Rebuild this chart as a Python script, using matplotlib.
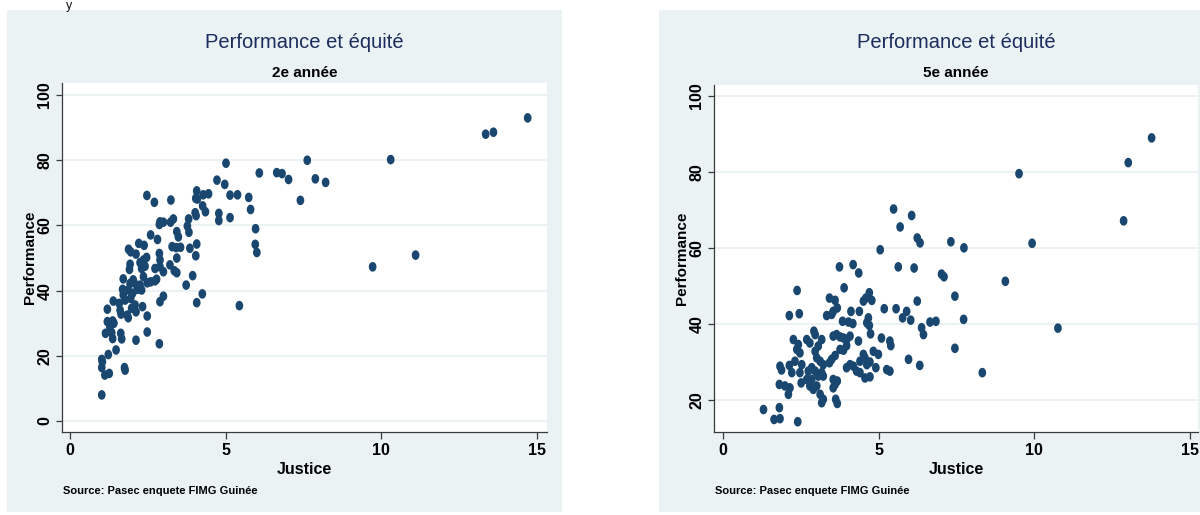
import numpy as np
import matplotlib
matplotlib.use("Agg")
import matplotlib.pyplot as plt
from matplotlib.path import Path
from matplotlib.patches import Rectangle

# ---------------- data ----------------
titles = ["Performance et équité", "Performance et équité"]
subtitles = ["2e année", "5e année"]
x_label = "Justice"
y_label = "Performance"
source = "Source: Pasec enquete FIMG Guinée"
x_ticks = [0, 5, 10, 15]
y_ticks_2e = [0, 20, 40, 60, 80, 100]
y_ticks_5e = [20, 40, 60, 80, 100]

# 2e année
justice_2e = [
    5.01, 7.62, 6.08, 6.64, 6.81, 7.02, 7.88, 8.21, 7.40, 4.72,
    4.97, 5.14, 5.38, 5.74, 5.80, 5.96, 5.95, 6.00, 4.78, 4.78,
    5.14, 2.47, 2.71, 3.24, 4.07, 4.04, 4.09, 4.28, 4.45, 4.26,
    4.35, 4.02, 4.05, 3.81, 3.77, 3.82, 2.89, 3.00, 3.23, 3.32,
    2.87, 3.43, 3.48, 2.59, 2.81, 2.21, 2.38, 1.88, 1.95, 2.12,
    2.46, 2.36, 2.87, 2.89, 3.28, 3.41, 3.55, 3.85, 4.07, 4.04,
    3.43, 1.93, 1.91, 2.25, 2.30, 2.41, 2.73, 2.89, 3.00, 3.21,
    3.35, 3.43, 3.94, 1.71, 2.03, 2.36,
    1.69, 1.93, 2.06, 2.25, 2.30, 2.48, 2.59, 2.73, 2.78, 3.73,
    4.25, 4.07, 3.00, 2.89, 1.39, 1.58, 1.77, 1.95, 2.09, 2.33,
    1.98, 1.20, 1.61, 1.64, 1.84, 1.87, 2.12, 2.48, 1.20, 1.37,
    1.28, 1.41, 1.14, 1.34, 1.37, 1.63, 1.66, 2.12, 2.48, 2.87,
    1.48, 1.23, 1.02, 1.04, 1.02, 1.12, 1.26, 1.75, 1.77, 1.02,
    5.44, 1.87, 2.16, 2.01, 1.71,
    14.70, 13.35, 13.60, 10.30, 9.72, 11.10,
]
perf_2e = [
    79.1, 80.0, 76.1, 76.2, 75.9, 74.1, 74.3, 73.2, 67.7, 73.9,
    72.6, 69.3, 69.4, 68.6, 64.9, 59.0, 54.2, 51.7, 63.7, 61.5,
    62.4, 69.2, 67.1, 67.8, 70.6, 68.3, 68.1, 69.4, 69.7, 66.0,
    64.2, 63.9, 63.0, 62.0, 59.8, 57.9, 61.1, 61.0, 61.0, 62.0,
    60.3, 58.1, 56.5, 57.1, 55.7, 54.5, 53.9, 52.7, 51.9, 51.2,
    50.2, 49.4, 51.4, 49.4, 53.5, 53.2, 53.3, 53.0, 54.3, 50.7,
    50.0, 48.1, 46.5, 48.6, 46.8, 47.5, 46.8, 47.3, 45.8, 47.9,
    46.1, 45.5, 44.6, 43.6, 43.3, 44.3,
    40.4, 42.2, 42.4, 41.7, 40.2, 42.4, 42.7, 43.0, 43.5, 41.7,
    39.0, 36.3, 38.3, 36.6, 36.8, 36.1, 37.1, 37.6, 35.6, 35.1,
    34.6, 34.3, 34.0, 32.8, 32.5, 31.7, 33.5, 32.2, 30.5, 30.7,
    28.7, 30.0, 26.9, 27.1, 25.3, 26.9, 25.2, 24.8, 27.3, 23.7,
    21.8, 20.4, 18.9, 18.2, 16.4, 14.1, 14.6, 16.4, 15.6, 8.0,
    35.4, 40.2, 40.4, 39.2, 38.7,
    93.0, 88.0, 88.6, 80.2, 47.3, 50.9,
]

# 5e année
justice_5e = [
    13.77, 13.02, 9.51, 12.87, 7.32, 7.74, 9.93, 7.02, 7.10, 9.07,
    7.45, 7.73, 10.76, 7.45, 8.33,
    5.48, 6.06, 5.69, 6.24, 6.33, 5.05, 3.74, 4.18, 4.36, 5.63, 6.14,
    3.89, 2.38, 2.13, 2.45, 3.42, 3.60, 3.67, 3.33, 3.49, 3.54,
    4.11, 4.38, 4.51, 4.59, 4.70, 4.78, 4.67, 4.62, 4.70, 4.74,
    3.84, 4.03, 4.17, 4.35, 5.18, 5.56, 5.77, 5.90, 6.03, 6.24,
    6.38, 6.44, 6.65, 6.84, 5.09, 5.36, 5.39, 5.96, 6.32, 4.83,
    4.99, 4.91, 5.26, 5.36, 4.51, 4.56, 4.40, 4.62, 4.72, 3.97,
    4.08, 4.19, 4.29, 4.40, 4.56, 4.72, 3.54, 3.60, 3.67, 3.54,
    3.62, 3.67, 3.42, 3.49, 3.60, 3.76, 3.87, 3.97, 3.54, 3.65,
    3.76, 3.87, 3.97, 4.08, 3.17, 3.06, 2.96, 3.01, 3.12, 3.22,
    3.17, 3.22, 3.06, 2.96, 2.85, 3.01, 3.12, 3.17, 3.22, 2.92,
    2.69, 2.79, 2.96, 2.26, 2.42, 2.37, 2.47, 2.31, 2.53, 2.47,
    2.51, 2.74, 2.85, 1.83, 1.88, 2.13, 2.21, 1.81, 1.99, 2.15,
    2.10, 1.30, 1.64, 1.81, 1.83, 2.40, 2.69, 2.79, 2.90,
]
perf_5e = [
    89.0, 82.5, 79.6, 67.2, 61.7, 60.1, 61.3, 53.2, 52.5, 51.3,
    47.4, 41.3, 39.0, 33.7, 27.3,
    70.3, 68.6, 65.6, 62.7, 61.4, 59.6, 55.1, 55.7, 53.5, 55.1, 54.8,
    49.6, 48.9, 42.3, 42.8, 46.9, 46.3, 44.3, 42.3, 42.6, 43.4,
    43.4, 43.4, 46.1, 46.9, 48.3, 46.3, 41.7, 40.4, 39.7, 37.5,
    40.8, 40.6, 40.2, 35.6, 44.1, 44.1, 41.7, 43.4, 41.1, 46.1,
    39.1, 37.3, 40.6, 40.8, 36.4, 35.6, 34.4, 30.8, 29.2, 32.9,
    32.1, 28.6, 28.1, 27.7, 32.1, 31.2, 30.3, 29.4, 30.1, 28.6,
    29.4, 29.0, 27.7, 27.3, 25.9, 26.2, 25.5, 24.2, 25.1, 23.3,
    20.3, 19.2, 29.9, 30.8, 31.8, 33.4, 33.2, 34.4, 36.9, 37.3,
    36.7, 36.4, 36.0, 36.9, 36.0, 34.3, 32.9, 31.2, 30.3, 29.4,
    27.3, 26.4, 26.4, 27.7, 25.5, 23.8, 21.6, 19.4, 20.3, 38.2,
    36.0, 35.1, 37.3, 36.0, 34.7, 33.4, 32.5, 30.3, 29.4, 27.3,
    24.6, 27.7, 28.6, 29.0, 28.0, 29.2, 27.3, 24.2, 23.8, 23.3,
    21.6, 17.6, 15.0, 18.1, 15.2, 14.4, 25.5, 23.8, 22.9,
]

# ---------------- style ----------------
plt.rcParams["font.family"] = ["Liberation Sans", "DejaVu Sans"]
BG = "#EAF2F3"
NAVY = "#1A476F"
TITLE_C = "#1C2C5E"
W, H = 1200, 515

fig = plt.figure(figsize=(12, 5.15), dpi=100)
fig.patch.set_facecolor("white")


def fx(px):
    return px / W


def fy(py):
    return 1 - py / H


t = np.linspace(0, 2 * np.pi, 64)
ellipse = Path(np.column_stack([0.4 * np.cos(t), 0.5 * np.sin(t)]), closed=True)

# panel backgrounds
for x0, x1 in [(7, 562), (659, 1200)]:
    fig.add_artist(Rectangle((fx(x0), fy(512)), fx(x1) - fx(x0), fy(10) - fy(512),
                             transform=fig.transFigure, facecolor=BG,
                             edgecolor="none", zorder=0))

# small fragment of text at the very top
fig.text(fx(66), fy(0.5), "y", fontsize=9, va="top", ha="left", color="#111111")


def panel(l, t_, r, b, xlim, ylim, yticks, xs, ys, title, subtitle):
    ax = fig.add_axes([fx(l), fy(b), fx(r) - fx(l), fy(t_) - fy(b)])
    ax.set_facecolor("white")
    ax.scatter(xs, ys, s=48, marker=ellipse, color=NAVY, edgecolors="none",
               zorder=3, clip_on=False)
    ax.set_xlim(*xlim)
    ax.set_ylim(*ylim)
    ax.set_xticks(x_ticks)
    ax.set_yticks(yticks)
    ax.set_xticklabels([str(v) for v in x_ticks], fontweight="bold", fontsize=11.5)
    ax.set_yticklabels([str(v) for v in yticks], fontweight="bold", fontsize=11.5,
                       rotation=90, va="center")
    ax.grid(axis="y", color=BG, lw=1.4, zorder=0)
    ax.set_axisbelow(True)
    for s in ["top", "right"]:
        ax.spines[s].set_visible(False)
    for s in ["left", "bottom"]:
        ax.spines[s].set_color("#3a3a3a")
        ax.spines[s].set_linewidth(0.9)
    ax.tick_params(axis="x", direction="out", length=5, width=0.9, pad=3,
                   color="#3a3a3a", labelcolor="black")
    ax.tick_params(axis="y", direction="out", length=4, width=0.9, pad=3,
                   color="#3a3a3a", labelcolor="black")
    cx = (l + r) / 2
    fig.text(fx(cx), fy(48), title, ha="center", va="baseline", fontsize=14.5,
             color=TITLE_C, fontweight="normal")
    fig.text(fx(cx), fy(77), subtitle, ha="center", va="baseline", fontsize=11,
             color="black", fontweight="bold")
    fig.text(fx(cx), fy(469), x_label, ha="center", va="center", fontsize=11.5,
             fontweight="bold")
    fig.text(fx(l - 32), fy((t_ + b) / 2), y_label, ha="center", va="center",
             rotation=90, fontsize=11, fontweight="bold")
    fig.text(fx(l + 1), fy(491), source, ha="left", va="center", fontsize=8,
             fontweight="bold")
    return ax


panel(62, 83, 547, 432, (-0.257, 15.32), (-3.37, 103.7), y_ticks_2e,
      justice_2e, perf_2e, titles[0], subtitles[0])
panel(714, 85, 1198, 432, (-0.29, 15.26), (11.7, 102.9), y_ticks_5e,
      justice_5e, perf_5e, titles[1], subtitles[1])

fig.savefig("out.png", dpi=100, facecolor="white")
